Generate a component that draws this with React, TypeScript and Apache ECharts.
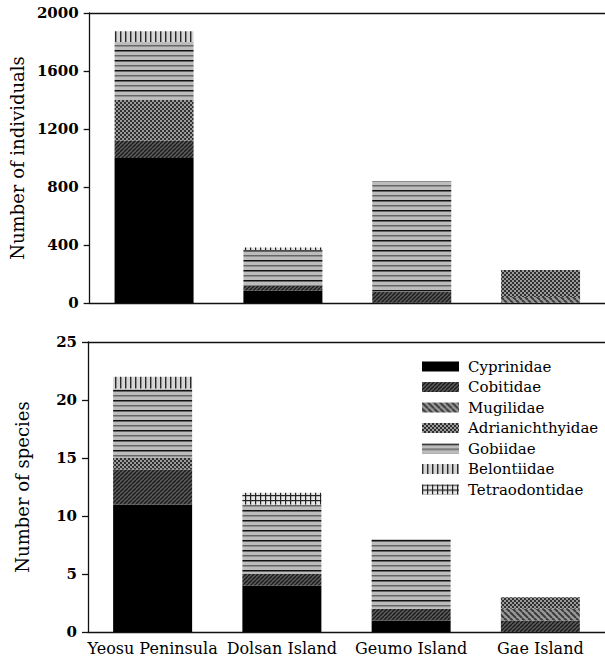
import React, { useEffect, useRef } from "react";
import * as echarts from "echarts";

const categories = ["Yeosu Peninsula", "Dolsan Island", "Geumo Island", "Gae Island"];
const families = [
  "Cyprinidae",
  "Cobitidae",
  "Mugilidae",
  "Adrianichthyidae",
  "Gobiidae",
  "Belontiidae",
  "Tetraodontidae",
];

// Number of individuals
const indCyprinidae = [1000, 85, 3, 0];
const indCobitidae = [120, 35, 75, 2];
const indMugilidae = [0, 0, 0, 40];
const indAdrianichthyidae = [280, 0, 0, 185];
const indGobiidae = [400, 240, 762, 0];
const indBelontiidae = [75, 0, 0, 0];
const indTetraodontidae = [0, 22, 0, 0];

// Number of species
const spCyprinidae = [11, 4, 1, 0];
const spCobitidae = [3, 1, 1, 1];
const spMugilidae = [0, 0, 0, 1];
const spAdrianichthyidae = [1, 0, 0, 1];
const spGobiidae = [6, 6, 6, 0];
const spBelontiidae = [1, 0, 0, 0];
const spTetraodontidae = [0, 1, 0, 0];

const individualTicks = { min: 0, max: 2000, interval: 400 };
const speciesTicks = { min: 0, max: 25, interval: 5 };

const FONT = "DejaVu Serif";

function makeCanvas(w: number, h: number, draw: (c: CanvasRenderingContext2D) => void) {
  const cv = document.createElement("canvas");
  cv.width = w;
  cv.height = h;
  const ctx = cv.getContext("2d")!;
  draw(ctx);
  return { image: cv, repeat: "repeat", imageWidth: w, imageHeight: h } as any;
}

function makePatterns(): Record<string, any> {
  const cob = makeCanvas(4, 4, (c) => {
    c.fillStyle = "#5a5a5a";
    c.fillRect(0, 0, 4, 4);
    c.strokeStyle = "#1a1a1a";
    c.lineWidth = 1.3;
    for (let k = -4; k <= 8; k += 4) {
      c.beginPath();
      c.moveTo(k, 4);
      c.lineTo(k + 4, 0);
      c.stroke();
    }
  });
  const mug = makeCanvas(6, 6, (c) => {
    c.fillStyle = "#9a9a9a";
    c.fillRect(0, 0, 6, 6);
    c.strokeStyle = "#3c3c3c";
    c.lineWidth = 2;
    for (let k = -6; k <= 12; k += 6) {
      c.beginPath();
      c.moveTo(k, 0);
      c.lineTo(k + 6, 6);
      c.stroke();
    }
  });
  const adr = makeCanvas(4, 4, (c) => {
    c.fillStyle = "#303030";
    c.fillRect(0, 0, 4, 4);
    c.fillStyle = "#9a9a9a";
    c.fillRect(0, 0, 2, 2);
    c.fillRect(2, 2, 2, 2);
  });
  const gob = makeCanvas(4, 10, (c) => {
    c.fillStyle = "#bcbcbc";
    c.fillRect(0, 0, 4, 10);
    c.fillStyle = "#111111";
    c.fillRect(0, 0, 4, 1.5);
    c.fillStyle = "#666666";
    c.fillRect(0, 5, 4, 1.5);
  });
  const bel = makeCanvas(5, 4, (c) => {
    c.fillStyle = "#d6d6d6";
    c.fillRect(0, 0, 5, 4);
    c.fillStyle = "#2a2a2a";
    c.fillRect(0, 0, 1.4, 4);
  });
  const tet = makeCanvas(5, 5, (c) => {
    c.fillStyle = "#e6e6e6";
    c.fillRect(0, 0, 5, 5);
    c.fillStyle = "#222222";
    c.fillRect(0, 0, 1.2, 5);
    c.fillRect(0, 0, 5, 1.2);
  });
  return {
    Cyprinidae: "#000000",
    Cobitidae: cob,
    Mugilidae: mug,
    Adrianichthyidae: adr,
    Gobiidae: gob,
    Belontiidae: bel,
    Tetraodontidae: tet,
  };
}

export default function App() {
  const ref = useRef<HTMLDivElement>(null);

  useEffect(() => {
    document.body.style.margin = "0";
    const chart = echarts.init(ref.current!, null, { renderer: "svg" });
    const patterns = makePatterns();

    const indData: Record<string, number[]> = {
      Cyprinidae: indCyprinidae,
      Cobitidae: indCobitidae,
      Mugilidae: indMugilidae,
      Adrianichthyidae: indAdrianichthyidae,
      Gobiidae: indGobiidae,
      Belontiidae: indBelontiidae,
      Tetraodontidae: indTetraodontidae,
    };
    const spData: Record<string, number[]> = {
      Cyprinidae: spCyprinidae,
      Cobitidae: spCobitidae,
      Mugilidae: spMugilidae,
      Adrianichthyidae: spAdrianichthyidae,
      Gobiidae: spGobiidae,
      Belontiidae: spBelontiidae,
      Tetraodontidae: spTetraodontidae,
    };

    const axisLine = { show: true, lineStyle: { color: "#111", width: 1.3 } };
    const series: any[] = [];
    families.forEach((f) => {
      series.push({
        name: f,
        type: "bar",
        xAxisIndex: 0,
        yAxisIndex: 0,
        stack: "ind",
        barWidth: 79,
        data: indData[f],
        itemStyle: { color: patterns[f] },
        emphasis: { disabled: true },
      });
    });
    families.forEach((f) => {
      series.push({
        name: f,
        type: "bar",
        xAxisIndex: 1,
        yAxisIndex: 1,
        stack: "sp",
        barWidth: 79,
        data: spData[f],
        itemStyle: { color: patterns[f] },
        emphasis: { disabled: true },
      });
    });

    const yAxisCommon = (name: string) => ({
      type: "value",
      name,
      nameLocation: "middle",
      nameGap: 57,
      nameTextStyle: { fontFamily: FONT, fontSize: 18, color: "#000" },
      axisLine,
      axisTick: { show: true, inside: false, length: 6, lineStyle: { color: "#111", width: 1.3 } },
      axisLabel: {
        fontFamily: FONT,
        fontSize: 15,
        fontWeight: "bold",
        color: "#000",
        margin: 11,
        formatter: (v: number) => String(v),
      },
      splitLine: { show: false },
    });

    chart.setOption({
      animation: false,
      backgroundColor: "#fff",
      grid: [
        { left: 88, top: 13, width: 519, height: 290 },
        { left: 88, top: 342, width: 519, height: 290 },
      ],
      legend: {
        data: families.map((f) => ({ name: f, icon: "rect" })),
        orient: "vertical",
        left: 422,
        top: 359,
        padding: 0,
        itemWidth: 37,
        itemHeight: 10,
        itemGap: 5.5,
        selectedMode: false,
        textStyle: { fontFamily: FONT, fontSize: 15, color: "#000", padding: [0, 0, 0, 4] },
      },
      xAxis: [
        {
          type: "category",
          gridIndex: 0,
          data: categories,
          axisLine,
          axisTick: { show: false },
          axisLabel: { show: false },
        },
        {
          type: "category",
          gridIndex: 1,
          data: categories,
          axisLine,
          axisTick: { show: false },
          axisLabel: { fontFamily: FONT, fontSize: 16, color: "#000", margin: 8, interval: 0 },
        },
        {
          type: "category",
          gridIndex: 0,
          position: "top",
          data: categories,
          axisLine,
          axisTick: { show: false },
          axisLabel: { show: false },
        },
        {
          type: "category",
          gridIndex: 1,
          position: "top",
          data: categories,
          axisLine,
          axisTick: { show: false },
          axisLabel: { show: false },
        },
      ],
      yAxis: [
        { ...yAxisCommon("Number of individuals"), gridIndex: 0, ...individualTicks },
        { ...yAxisCommon("Number of species"), gridIndex: 1, ...speciesTicks },
      ],
      series,
    });

    return () => chart.dispose();
  }, []);

  return <div ref={ref} style={{ width: 605, height: 663 }} />;
}
